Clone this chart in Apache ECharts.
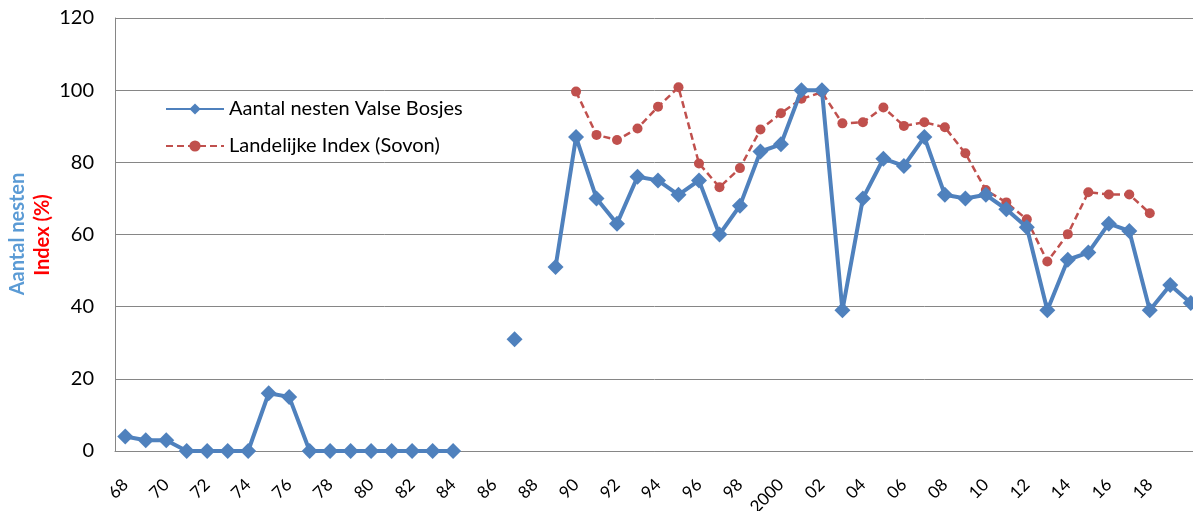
<!DOCTYPE html>
<html>
<head>
<meta charset="utf-8">
<script src="https://cdn.jsdelivr.net/npm/echarts@6/dist/echarts.min.js"></script>
<style>
  html, body { margin: 0; padding: 0; background: #fff; }
  #chart { width: 1193px; height: 511px; }
</style>
</head>
<body>
<div id="chart"></div>
<script>
// jaren 1968 t/m 2020
var years = [];
for (var y = 1968; y <= 2020; y++) years.push(y);

// aantal nesten Valse Bosjes (null = geen telling)
var nesten = [
  4, 3, 3, 0, 0, 0, 0, 16, 15, 0,     // 1968-1977
  0, 0, 0, 0, 0, 0, 0, null, null, 31, // 1978-1987
  null, 51, 87, 70, 63, 76, 75, 71, 75, 60, // 1988-1997
  68, 83, 85, 100, 100, 39, 70, 81, 79, 87, // 1998-2007
  71, 70, 71, 67, 62, 39, 53, 55, 63, 61,   // 2008-2017
  39, 46, 41                                // 2018-2020
];

// landelijke index (Sovon), 1990-2018
var index = [
  null, null, null, null, null, null, null, null, null, null, // 1968-1977
  null, null, null, null, null, null, null, null, null, null, // 1978-1987
  null, null, 99.6, 87.6, 86.2, 89.4, 95.4, 100.8, 79.7, 73.1, // 1988-1997
  78.4, 89.1, 93.6, 97.6, 99.4, 90.8, 91.1, 95.2, 90.1, 91.1, // 1998-2007
  89.7, 82.5, 72.3, 68.9, 64.2, 52.5, 60.1, 71.7, 71.1, 71.1, // 2008-2017
  65.9, null, null                                            // 2018-2020
];

var yTicks = [0, 20, 40, 60, 80, 100, 120];

var blue = '#4f81bd';
var red = '#c0504d';
var font = 'Lato, "Open Sans", sans-serif';

var myChart = echarts.init(document.getElementById('chart'));

var option = {
  backgroundColor: '#fff',
  animation: false,
  textStyle: { fontFamily: font },
  grid: {
    left: 115,
    top: 18,
    right: -8,
    bottom: 60,
    outerBoundsMode: 'none',
    containLabel: false
  },
  legend: {
    orient: 'vertical',
    left: 160,
    top: 94,
    itemWidth: 58,
    itemHeight: 14,
    itemGap: 17,
    textStyle: { fontSize: 20, color: '#000', fontFamily: font },
    data: ['Aantal nesten Valse Bosjes', 'Landelijke Index (Sovon)']
  },
  xAxis: {
    type: 'category',
    data: years,
    boundaryGap: true,
    axisLine: { lineStyle: { color: '#868686', width: 1 } },
    axisTick: { show: false },
    axisLabel: {
      interval: 1,
      rotate: 45,
      margin: 31,
      fontSize: 17,
      color: '#000',
      formatter: function (v) {
        v = +v;
        if (v === 2020) return '';
        if (v === 2000) return '2000';
        return String(v).slice(2);
      }
    },
    splitLine: { show: false }
  },
  yAxis: {
    type: 'value',
    min: yTicks[0],
    max: yTicks[yTicks.length - 1],
    interval: 20,
    axisLine: { show: true, lineStyle: { color: '#868686', width: 1 } },
    axisTick: { show: false },
    axisLabel: { fontSize: 20, color: '#000', margin: 21 },
    splitLine: { lineStyle: { color: '#868686', width: 1 } }
  },
  graphic: [
    {
      type: 'text',
      x: 18, y: 234,
      rotation: Math.PI / 2,
      style: {
        text: 'Aantal nesten',
        fill: '#5b9bd5',
        font: 'bold 20px ' + font,
        textAlign: 'center',
        textVerticalAlign: 'middle'
      }
    },
    {
      type: 'text',
      x: 43, y: 235,
      rotation: Math.PI / 2,
      style: {
        text: 'Index (%)',
        fill: '#ff0000',
        font: 'bold 20px ' + font,
        textAlign: 'center',
        textVerticalAlign: 'middle'
      }
    }
  ],
  series: [
    {
      name: 'Aantal nesten Valse Bosjes',
      type: 'line',
      data: nesten,
      connectNulls: false,
      showAllSymbol: true,
      symbol: 'diamond',
      symbolSize: 16,
      z: 3,
      itemStyle: { color: blue },
      lineStyle: { color: blue, width: 4 }
    },
    {
      name: 'Landelijke Index (Sovon)',
      type: 'line',
      data: index,
      connectNulls: false,
      showAllSymbol: true,
      symbol: 'circle',
      symbolSize: 10,
      z: 2,
      itemStyle: { color: red },
      lineStyle: { color: red, width: 2.5, type: [7, 4] }
    }
  ]
};

myChart.setOption(option);
</script>
</body>
</html>
